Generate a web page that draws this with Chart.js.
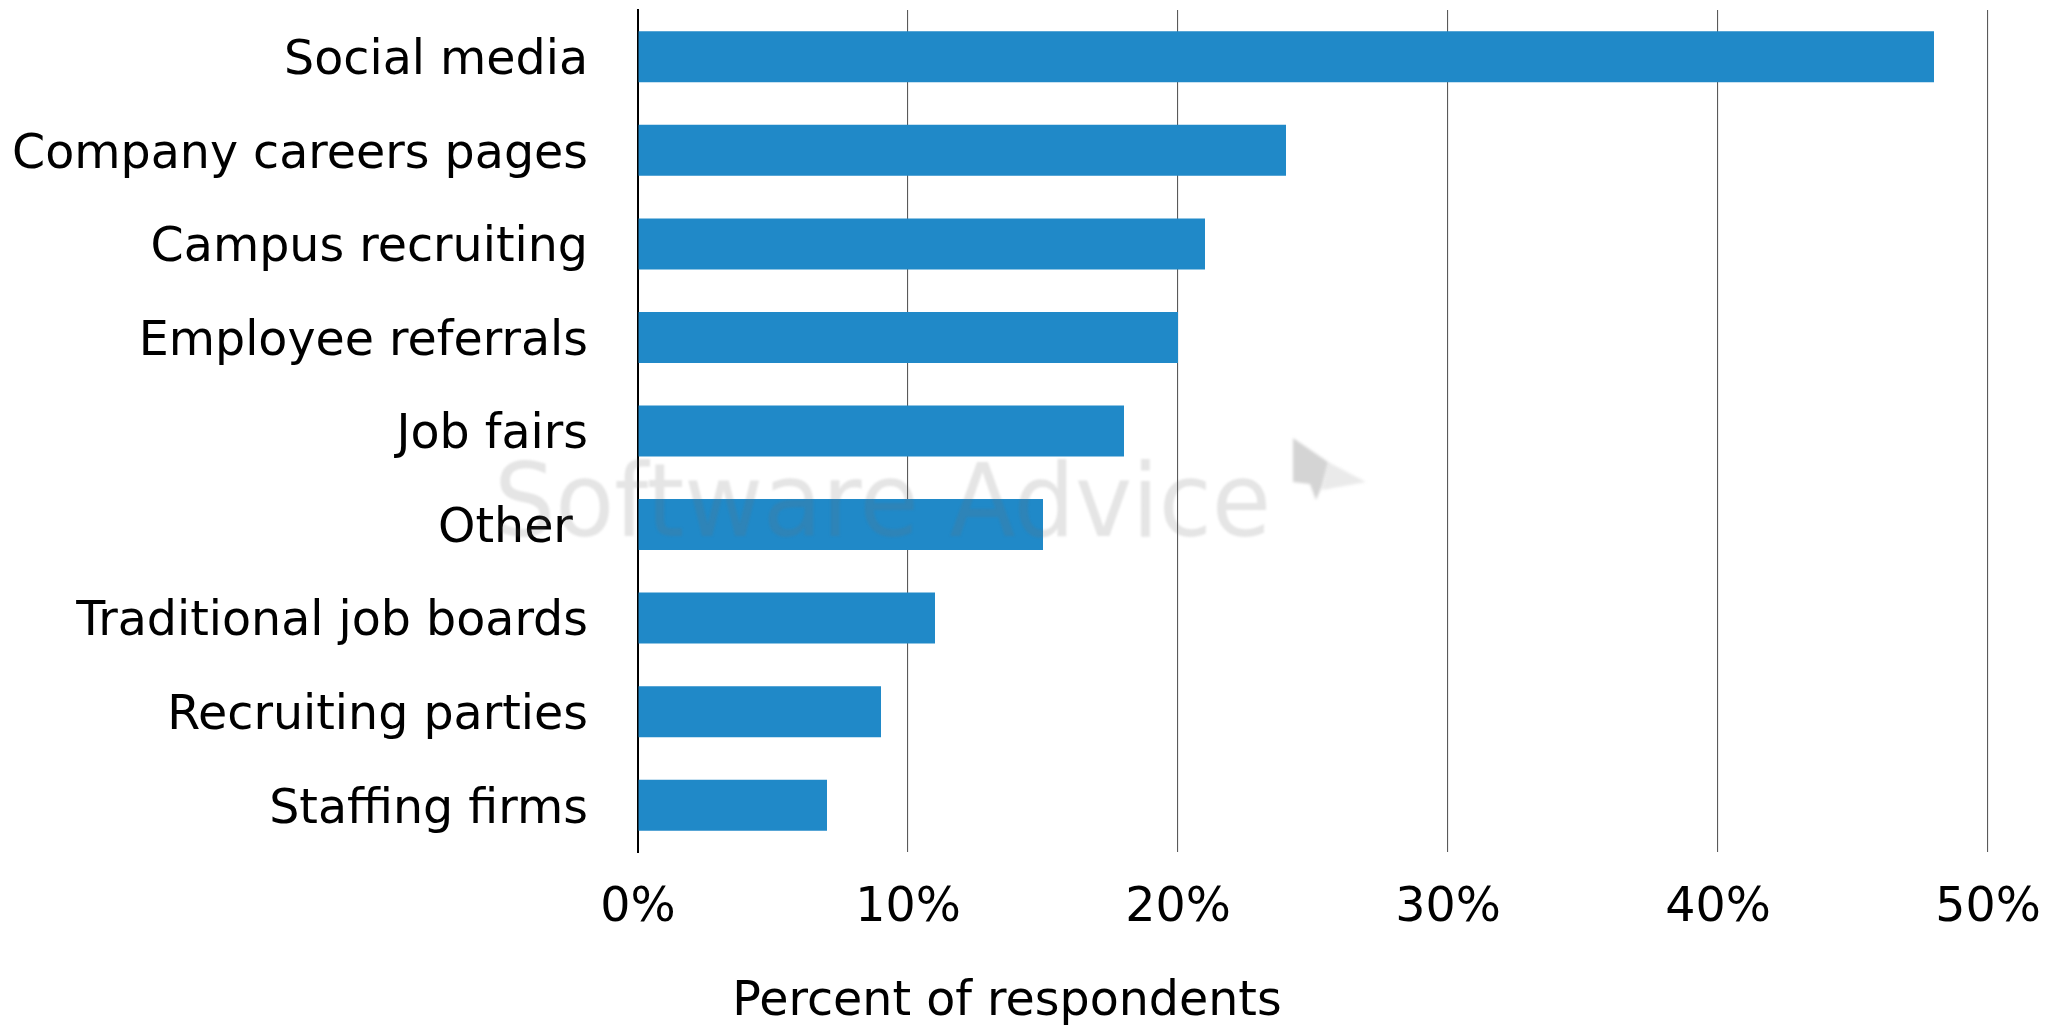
<!DOCTYPE html>
<html>
<head>
<meta charset="utf-8">
<script src="https://cdn.jsdelivr.net/npm/chart.js@4"></script>
<style>
  html, body { margin: 0; padding: 0; background: #ffffff; }
  canvas { display: block; }
</style>
</head>
<body>
<canvas id="chart" width="2055" height="1028"></canvas>
<script>
// Recruiting channels used, share of respondents (%)
const categories = [
  'Social media',
  'Company careers pages',
  'Campus recruiting',
  'Employee referrals',
  'Job fairs',
  'Other ',
  'Traditional job boards',
  'Recruiting parties',
  'Staffing firms'
];
const respondentShare = [48, 24, 21, 20, 18, 15, 11, 9, 7];
const percentTicks = [0, 10, 20, 30, 40, 50];
const axisTitle = 'Percent of respondents';
const watermarkText = 'Software Advice';

const FONT_FAMILY = '"DejaVu Sans", Verdana, sans-serif';
const FONT_SIZE = 47.5;

// Faint brand mark laid over the plot
const watermarkPlugin = {
  id: 'watermark',
  afterDatasetsDraw(chart) {
    const ctx = chart.ctx;
    ctx.save();
    ctx.font = '102px ' + FONT_FAMILY;
    ctx.textBaseline = 'alphabetic';
    ctx.textAlign = 'left';
    const w = ctx.measureText(watermarkText).width;
    const sx = 777 / w;
    const grad = ctx.createLinearGradient(0, 460, 0, 538);
    grad.addColorStop(0, 'rgba(110,110,110,0.18)');
    grad.addColorStop(1, 'rgba(70,70,70,0.42)');
    ctx.fillStyle = grad;
    ctx.filter = 'blur(1.2px)';
    ctx.translate(494, 536);
    ctx.scale(sx, 1);
    ctx.fillText(watermarkText, 0, 0);
    ctx.restore();

    // small paper-plane logo to the right of the wordmark
    ctx.save();
    ctx.filter = 'blur(1.5px)';
    ctx.fillStyle = 'rgba(120,120,120,0.32)';
    ctx.beginPath();
    ctx.moveTo(1293, 438);
    ctx.lineTo(1328, 462);
    ctx.lineTo(1322, 486);
    ctx.lineTo(1316, 500);
    ctx.lineTo(1310, 484);
    ctx.lineTo(1293, 482);
    ctx.closePath();
    ctx.fill();
    ctx.fillStyle = 'rgba(140,140,140,0.18)';
    ctx.beginPath();
    ctx.moveTo(1328, 462);
    ctx.lineTo(1366, 482);
    ctx.lineTo(1322, 490);
    ctx.closePath();
    ctx.fill();
    ctx.restore();
  }
};

// Axis title placed under the tick labels
const axisTitlePlugin = {
  id: 'axisTitle',
  afterDraw(chart) {
    const ctx = chart.ctx;
    ctx.save();
    ctx.font = FONT_SIZE + 'px ' + FONT_FAMILY;
    ctx.fillStyle = '#000000';
    ctx.textAlign = 'center';
    ctx.textBaseline = 'middle';
    ctx.fillText(axisTitle, 1007, 1003);
    ctx.restore();
  }
};

new Chart(document.getElementById('chart'), {
  type: 'bar',
  data: {
    labels: categories,
    datasets: [{
      data: respondentShare,
      backgroundColor: '#2089c8',
      borderWidth: 0,
      categoryPercentage: 1,
      barPercentage: 0.545
    }]
  },
  options: {
    indexAxis: 'y',
    responsive: false,
    animation: false,
    devicePixelRatio: 1,
    layout: { padding: { top: 10, right: 67, left: 0, bottom: 0 } },
    plugins: {
      legend: { display: false },
      tooltip: { enabled: false }
    },
    scales: {
      x: {
        min: 0,
        max: 50,
        afterBuildTicks(scale) {
          scale.ticks = percentTicks.map(v => ({ value: v }));
        },
        afterFit(scale) {
          scale.height = 176;
          scale.paddingLeft = 0;
          scale.paddingRight = 0;
        },
        ticks: {
          callback: v => v + '%',
          color: '#000000',
          padding: 28,
          maxRotation: 0,
          font: { family: FONT_FAMILY, size: FONT_SIZE }
        },
        grid: {
          color: '#5a5a5a',
          lineWidth: 1.1,
          drawTicks: false
        },
        border: { display: false }
      },
      y: {
        afterFit(scale) {
          scale.width = 638;
          scale.paddingTop = 0;
          scale.paddingBottom = 0;
        },
        ticks: {
          color: '#000000',
          padding: 50,
          labelOffset: 5,
          font: { family: FONT_FAMILY, size: FONT_SIZE }
        },
        grid: { display: false, drawTicks: false },
        border: { display: true, color: '#000000', width: 2 }
      }
    }
  },
  plugins: [watermarkPlugin, axisTitlePlugin]
});
</script>
</body>
</html>
